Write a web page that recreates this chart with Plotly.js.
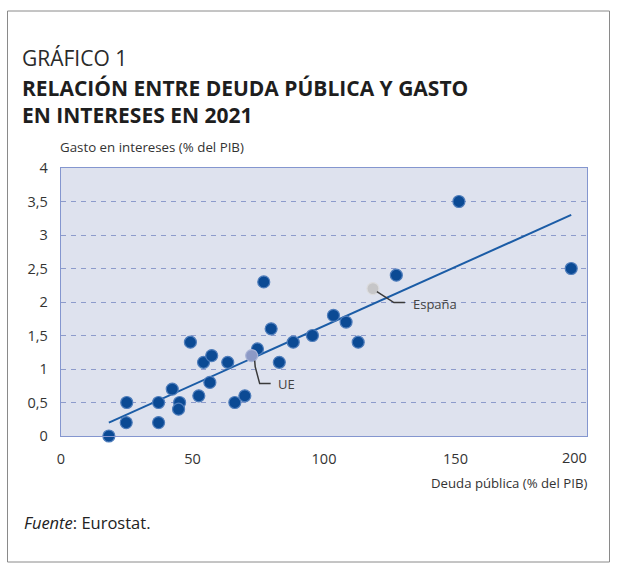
<!DOCTYPE html>
<html>
<head>
<meta charset="utf-8">
<script src="https://cdn.plot.ly/plotly-3.0.1.min.js"></script>
<style>
  html, body { margin: 0; padding: 0; background: #ffffff; }
  #chart { width: 618px; height: 571px; }
</style>
</head>
<body>
<div id="chart"></div>
<script>
// ---- Data ----
const deuda = [18.2, 25.0, 24.8, 37.1, 37.1, 42.3, 45.1, 44.7, 49.2, 52.4, 54.2, 57.3, 56.6, 63.4, 66.1, 69.9, 74.7, 77.1, 79.9, 83.0, 88.3, 95.6, 103.6, 108.4, 113.0, 127.5, 151.3, 194.0];
const intereses = [0.0, 0.5, 0.2, 0.5, 0.2, 0.7, 0.5, 0.4, 1.4, 0.6, 1.1, 1.2, 0.8, 1.1, 0.5, 0.6, 1.3, 2.3, 1.6, 1.1, 1.4, 1.5, 1.8, 1.7, 1.4, 2.4, 3.5, 2.5];
const ueX = [72.5], ueY = [1.2];
const espanaX = [118.6], espanaY = [2.2];
const trendX = [18.2, 194.0];
const trendY = [0.20, 3.30];
const yTicks = [0, 0.5, 1, 1.5, 2, 2.5, 3, 3.5, 4];
const xTicks = [0, 50, 100, 150];
const xTickLast = 200;

// ---- Layout geometry ----
const W = 618, H = 571;
const M = { l: 61, r: 31, t: 168, b: 135 };
const PW = W - M.l - M.r, PH = H - M.t - M.b;
const px = x => (x - M.l) / PW;
const py = y => (H - M.b - y) / PH;

const FONT = '"Open Sans", "Noto Sans", sans-serif';
const TXT = '#333333';

const traces = [
  {
    x: trendX, y: trendY, type: 'scatter', mode: 'lines',
    line: { color: '#1b5ca6', width: 2 }, hoverinfo: 'skip', cliponaxis: false
  },
  {
    x: deuda, y: intereses, type: 'scatter', mode: 'markers', cliponaxis: false,
    marker: { color: '#0b4a94', size: 12, line: { color: '#4f7dbb', width: 1.2 } }
  },
  {
    x: ueX, y: ueY, type: 'scatter', mode: 'markers', cliponaxis: false,
    marker: { color: '#8c99c6', size: 12, line: { color: '#a9b3d6', width: 1.2 } }
  },
  {
    x: espanaX, y: espanaY, type: 'scatter', mode: 'markers', cliponaxis: false,
    marker: { color: '#c6c6c8', size: 12, line: { color: '#dcdcde', width: 1.2 } }
  }
];

const ann = (text, x, y, size, xanchor, extra) => Object.assign({
  text, xref: 'paper', yref: 'paper', x: px(x), y: py(y),
  xanchor, yanchor: 'middle', showarrow: false,
  font: { family: FONT, size, color: TXT }
}, extra || {});

const layout = {
  width: W, height: H,
  margin: M,
  paper_bgcolor: '#ffffff',
  plot_bgcolor: '#dee2ee',
  showlegend: false,
  separators: ',.',
  font: { family: FONT, color: TXT },
  xaxis: {
    range: [0, 200], tickvals: xTicks, ticktext: xTicks.map(String),
    showgrid: false, zeroline: false,
    showline: true, linecolor: '#8496cf', linewidth: 1.2, mirror: true,
    ticks: '', ticklabelstandoff: 9,
    tickfont: { family: FONT, size: 14.5, color: TXT }
  },
  yaxis: {
    range: [0, 4], tickvals: yTicks, ticktext: yTicks.map(v => String(v).replace('.', ',')),
    showgrid: true, gridcolor: '#8d9bcb', gridwidth: 1, griddash: '5px,5px',
    zeroline: false,
    showline: true, linecolor: '#8496cf', linewidth: 1.2, mirror: true,
    ticks: '', ticklabelstandoff: 9,
    tickfont: { family: FONT, size: 14.5, color: TXT }
  },
  annotations: [
    ann('GRÁFICO 1', 20, 57.5, 21, 'left', { font: { family: FONT, size: 21, color: '#2a2a2a' } }),
    ann('<b>RELACIÓN ENTRE DEUDA PÚBLICA Y GASTO</b><br><b>EN INTERESES EN 2021</b>', 20, 101.5, 21, 'left',
        { align: 'left', font: { family: FONT, size: 21, color: '#1e1e1e' } }),
    ann('Gasto en intereses (% del PIB)', 58, 147, 13.3, 'left'),
    ann('Deuda pública (% del PIB)', 589, 483, 13.2, 'right'),
    ann(String(xTickLast), 589, 457, 14.5, 'right'),
    ann('<i>Fuente</i>: Eurostat.', 22, 522, 16.5, 'left', { font: { family: FONT, size: 16.5, color: '#222222' } }),
    {
      text: 'España', xref: 'x', yref: 'y', x: espanaX[0], y: espanaY[0],
      xanchor: 'left', yanchor: 'middle', xshift: 38, yshift: -15, showarrow: false,
      font: { family: FONT, size: 13, color: '#444444' }
    },
    {
      text: 'UE', xref: 'x', yref: 'y', x: ueX[0], y: ueY[0],
      xanchor: 'left', yanchor: 'middle', xshift: 24, yshift: -28, showarrow: false,
      font: { family: FONT, size: 13, color: '#444444' }
    }
  ],
  shapes: [
    {
      type: 'rect', xref: 'paper', yref: 'paper',
      x0: px(7.5), x1: px(609.5), y0: py(11), y1: py(562),
      line: { color: '#8a8a8a', width: 1 }, fillcolor: 'rgba(0,0,0,0)', layer: 'below'
    },
    {
      type: 'path', xref: 'x', yref: 'y', xsizemode: 'pixel', ysizemode: 'pixel',
      xanchor: espanaX[0], yanchor: espanaY[0],
      path: 'M 4 -3 L 21 -14 L 32 -14',
      line: { color: '#3a3a3a', width: 1.5 }
    },
    {
      type: 'path', xref: 'x', yref: 'y', xsizemode: 'pixel', ysizemode: 'pixel',
      xanchor: ueX[0], yanchor: ueY[0],
      path: 'M 3 -5 L 3.5 -11 L 8 -28 L 19 -28',
      line: { color: '#3a3a3a', width: 1.5 }
    }
  ]
};

Plotly.newPlot('chart', traces, layout, { displayModeBar: false, staticPlot: true });
</script>
</body>
</html>
